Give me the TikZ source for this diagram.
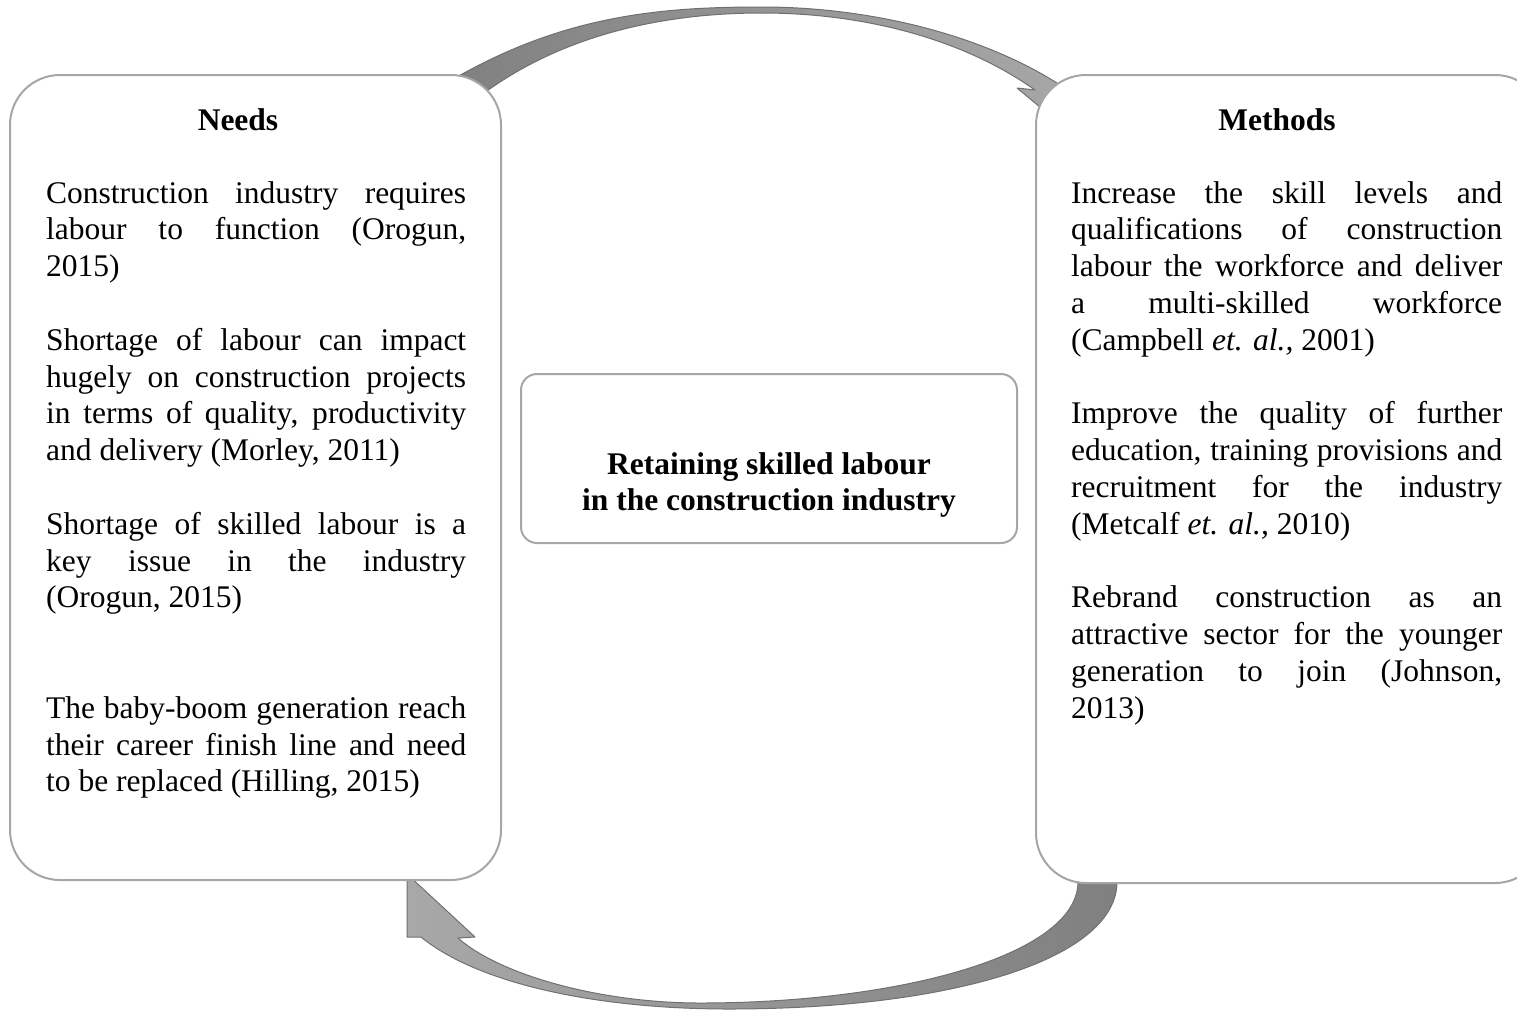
\documentclass[tikz,border=0pt]{standalone}
\usepackage{fontspec}
\setmainfont{Liberation Serif}
\definecolor{boxline}{RGB}{166,166,166}
\definecolor{arrdark}{RGB}{128,128,128}
\definecolor{arrlight}{RGB}{168,168,168}
\definecolor{arredge}{RGB}{112,112,112}
\newcommand\jl[1]{\makebox[\linewidth][s]{#1}\par}
\tikzset{
  sidebox/.style={draw=boxline, line width=2pt, fill=white, rounded corners=50pt, inner sep=0pt},
  midbox/.style={draw=boxline, line width=2pt, fill=white, rounded corners=16pt, inner sep=0pt},
  para/.style={anchor=base west, inner sep=0pt, font=\fontsize{31.5}{36.8}\selectfont},
  title/.style={anchor=base, inner sep=0pt, font=\fontsize{31.5}{36.8}\selectfont\bfseries},
  band/.style={draw=arredge, line width=1pt, line join=round}
}
\begin{document}
\begin{tikzpicture}[x=1pt,y=-1pt]
\useasboundingbox (0,0) rectangle (1517,1010);
\clip (0,0) rectangle (1517,1010);

% top circular arrow (Needs -> Methods)
\draw[band, left color=arrdark, right color=arrlight]
  (445,84) .. controls (560,15) and (660,7) .. (762,7)
  .. controls (880,7) and (1000,40) .. (1076,96)
  -- (1082,142) -- (1017,88) -- (1035,90)
  .. controls (960,37) and (860,13) .. (762,13)
  .. controls (660,13) and (560,36) .. (480,96) -- cycle;

% bottom circular arrow (Methods -> Needs)
\draw[band, left color=arrlight, right color=arrdark]
  (407,874) -- (407,937) -- (421,937)
  .. controls (480,985) and (600,1009) .. (729,1009)
  .. controls (950,1009) and (1115,960) .. (1117,883)
  -- (1117,860) -- (1078,860) -- (1078,883)
  .. controls (1076,955) and (900,1003) .. (700,1003)
  .. controls (600,1003) and (500,975) .. (458,938)
  -- (475,937) -- cycle;

% boxes
\node[sidebox, minimum width=491pt, minimum height=805pt] (needs) at (255.5,477.5) {};
\node[sidebox, minimum width=509pt, minimum height=808pt] (methods) at (1290.5,479) {};
\node[midbox, minimum width=496pt, minimum height=169pt] (core) at (769,458.5) {};

% titles
\node[title] (needsT) at (238,130) {Needs};
\node[title] (methodsT) at (1277,130) {Methods};

% centre text
\node[anchor=base, inner sep=0pt, font=\fontsize{31.5}{36.2}\selectfont\bfseries] (coreT) at (769,474)
  {\parbox[t]{490pt}{\centering Retaining skilled labour\\in the construction industry}};

% left paragraphs
\node[para] (n1) at (46,203) {\parbox[t]{420pt}{%
\jl{Construction industry requires}
\jl{labour to function (Orogun,}
2015)}};
\node[para] (n2) at (46,350.2) {\parbox[t]{420pt}{%
\jl{Shortage of labour can impact}
\jl{hugely on construction projects}
\jl{in terms of quality, productivity}
and delivery (Morley, 2011)}};
\node[para] (n3) at (46,534.2) {\parbox[t]{420pt}{%
\jl{Shortage of skilled labour is a}
\jl{key issue in the industry}
(Orogun, 2015)}};
\node[para] (n4) at (46,718.2) {\parbox[t]{420pt}{%
\jl{The baby-boom generation reach}
\jl{their career finish line and need}
to be replaced (Hilling, 2015)}};

% right paragraphs
\node[para] (m1) at (1071,203) {\parbox[t]{431pt}{%
\jl{Increase the skill levels and}
\jl{qualifications of construction}
\jl{labour the workforce and deliver}
\jl{a multi-skilled workforce}
(Campbell \textit{et. al.,} 2001)}};
\node[para] (m2) at (1071,423.8) {\parbox[t]{431pt}{%
\jl{Improve the quality of further}
\jl{education, training provisions and}
\jl{recruitment for the industry}
(Metcalf \textit{et. al.,} 2010)}};
\node[para] (m3) at (1071,607.8) {\parbox[t]{431pt}{%
\jl{Rebrand construction as an}
\jl{attractive sector for the younger}
\jl{generation to join (Johnson,}
2013)}};
\end{tikzpicture}
\end{document}
